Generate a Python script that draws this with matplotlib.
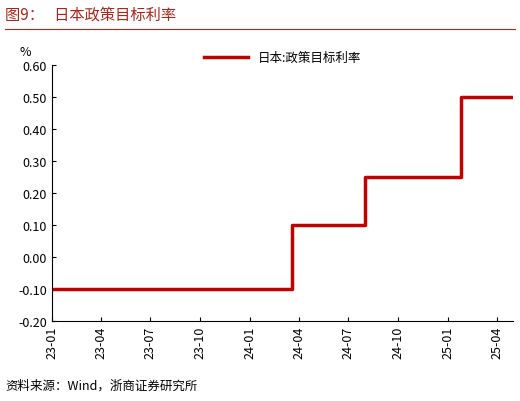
import matplotlib
matplotlib.use('Agg')
import matplotlib.pyplot as plt
import matplotlib.dates as mdates
import pandas as pd

plt.rcParams['font.family'] = ['Noto Sans CJK SC', 'DejaVu Sans']

# policy rate step points
change_dates = ['2023-01-01', '2024-03-19', '2024-07-31', '2025-01-24', '2025-05-01']
rates = [-0.10, 0.10, 0.25, 0.50, 0.50]
tick_labels = ['23-01', '23-04', '23-07', '23-10', '24-01', '24-04',
               '24-07', '24-10', '25-01', '25-04']
RED = '#C00000'

dates = pd.to_datetime(change_dates)
ticks = pd.to_datetime(['20' + t + '-01' for t in tick_labels])

fig = plt.figure(figsize=(5.2, 4.02), dpi=100)
ax = fig.add_axes([0.1, 0.2, 0.887, 0.635])
ax.step(dates, rates, where='post', color=RED, lw=2.5, label='日本:政策目标利率')
ax.set_xlim(dates[0], dates[-1])
ax.set_ylim(-0.2, 0.6)
ax.set_yticks([-0.2, -0.1, 0, 0.1, 0.2, 0.3, 0.4, 0.5, 0.6])
ax.set_yticklabels([f'{v:.2f}' for v in ax.get_yticks()], fontsize=9)
ax.set_xticks(ticks)
ax.set_xticklabels(tick_labels, rotation=90, fontsize=9)
ax.tick_params(direction='in', length=3)
for s in ['top', 'right']:
    ax.spines[s].set_visible(False)
ax.text(-0.07, 1.04, '%', transform=ax.transAxes, fontsize=9)
ax.legend(loc='upper center', bbox_to_anchor=(0.5, 1.1), frameon=False,
          fontsize=9, handlelength=3.5)

fig.text(0.01, 0.962, '图9：   日本政策目标利率', color='#A0281E', fontsize=11,
         va='center')
fig.add_artist(plt.Line2D([0.01, 0.99], [0.925, 0.925], color='#A0281E', lw=0.8))
fig.text(0.01, 0.04, '资料来源：Wind，浙商证券研究所', fontsize=9, va='center')

fig.savefig('out.png', dpi=100)
